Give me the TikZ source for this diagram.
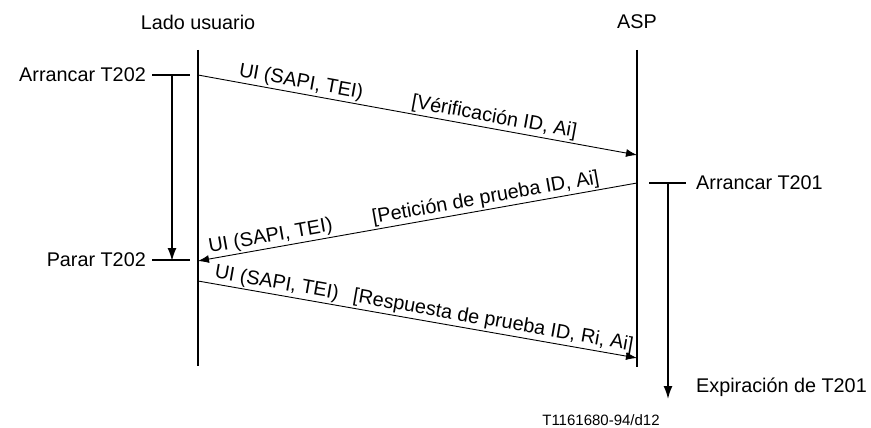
\documentclass[tikz,border=0pt]{standalone}
\usepackage{fontspec}
\setmainfont{Liberation Sans}
\usetikzlibrary{arrows.meta}
\begin{document}
\begin{tikzpicture}[x=1pt,y=-1pt,
  every node/.style={font=\fontsize{19.8}{23}\selectfont, inner sep=1pt},
  life/.style={line width=1.6pt},
  msg/.style={line width=0.9pt, -{Latex[length=11pt,width=8pt]}},
  tick/.style={line width=1.6pt},
  timer/.style={line width=1.6pt, -{Latex[length=13pt,width=9pt]}},
  lbl/.style={sloped, above, inner sep=1.5pt},
  small/.style={font=\fontsize{15}{18}\selectfont}]
\useasboundingbox (0,0) rectangle (871,428);
% lifelines
\coordinate (Ltop) at (198,50);
\coordinate (Lbot) at (198,366);
\coordinate (Rtop) at (637,50);
\coordinate (Rbot) at (637,367);
\node (lado) at (198,22) {Lado usuario};
\node (asp) at (637,22) {ASP};
\draw[life] (Ltop) -- (Lbot);
\draw[life] (Rtop) -- (Rbot);
% message endpoints
\coordinate (m1s) at (198,75);
\coordinate (m1e) at (637,155);
\coordinate (m2s) at (637,183);
\coordinate (m2e) at (198,261);
\coordinate (m3s) at (198,281);
\coordinate (m3e) at (637,358);
\draw[msg] (m1s) -- node[lbl,pos=0.23] (l1a) {UI (SAPI, TEI)} node[lbl,pos=0.67] (l1b) {[Vérificación ID, Ai]} (m1e);
\draw[msg] (m2s) -- node[lbl,pos=0.34] (l2a) {[Petición de prueba ID, Ai]} node[lbl,pos=0.83] (l2b) {UI (SAPI, TEI)} (m2e);
\draw[msg] (m3s) -- node[lbl,pos=0.175] (l3a) {UI (SAPI, TEI)} node[lbl,pos=0.668] (l3b) {[Respuesta de prueba ID, Ri, Ai]} (m3e);
% T202
\coordinate (t202a) at (152,75);
\coordinate (t202b) at (190,75);
\coordinate (t202c) at (152,260);
\coordinate (t202d) at (190,260);
\draw[tick] (t202a) -- (t202b);
\draw[tick] (t202c) -- (t202d);
\node[anchor=east] (arr202) at (147,75) {Arrancar T202};
\node[anchor=east] (par202) at (147,260) {Parar T202};
\coordinate (v202s) at (172,75);
\coordinate (v202e) at (172,261);
\draw[timer] (v202s) -- (v202e);
% T201
\coordinate (t201a) at (649,183);
\coordinate (t201b) at (686,183);
\draw[tick] (t201a) -- (t201b);
\node[anchor=west] (arr201) at (695,183) {Arrancar T201};
\coordinate (v201s) at (668,183);
\coordinate (v201e) at (668,399);
\draw[timer] (v201s) -- (v201e);
\node[anchor=west] (exp201) at (695,387) {Expiración de T201};
\node[small] (fig) at (601,420) {T1161680-94/d12};
\end{tikzpicture}
\end{document}
